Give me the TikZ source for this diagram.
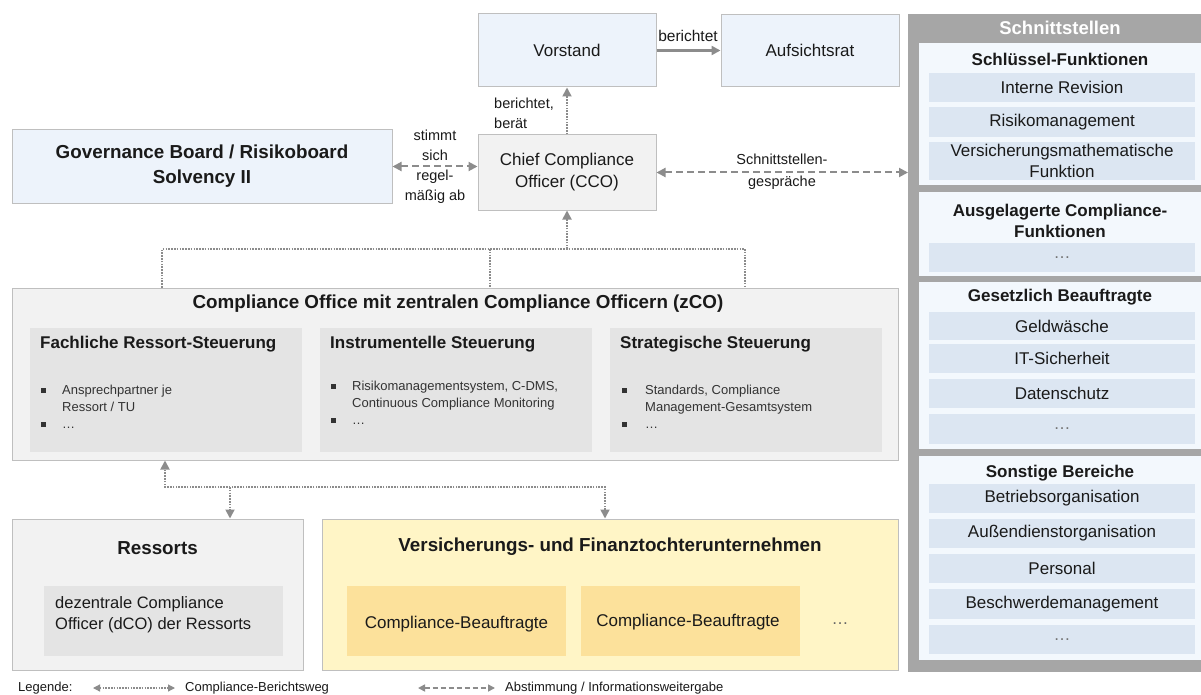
\documentclass[tikz,border=0pt]{standalone}
\usepackage{fontspec}
\setmainfont{Liberation Sans}
\usetikzlibrary{arrows.meta}
\definecolor{bord}{HTML}{BFBFBF}
\definecolor{lblue}{HTML}{EDF3FB}
\definecolor{lgray}{HTML}{F2F2F2}
\definecolor{mgray}{HTML}{E4E4E4}
\definecolor{panelgray}{HTML}{A6A6A6}
\definecolor{grpfill}{HTML}{F3F8FD}
\definecolor{itemfill}{HTML}{DCE6F2}
\definecolor{lyellow}{HTML}{FFF5C6}
\definecolor{dyellow}{HTML}{FCE19B}
\definecolor{agray}{HTML}{8C8C8C}
\definecolor{txtc}{HTML}{1A1A1A}
\newcommand\fsNorm{\fontsize{17}{22}\selectfont}
\newcommand\fsBig{\bfseries\fontsize{18.8}{25}\selectfont}
\newcommand\fsSec{\bfseries\fontsize{17}{21}\selectfont}
\newcommand\fsLab{\fontsize{14.5}{20}\selectfont}
\newcommand\fsSmall{\fontsize{13}{17}\selectfont}
\newcommand\bsq{\rule[1.5pt]{4.5pt}{4.5pt}}
\begin{document}
\begin{tikzpicture}[x=1pt,y=-1pt,
  tbox/.style={draw=bord, line width=1pt, inner sep=0pt, align=center, text=txtc},
  ptext/.style={inner sep=0pt, align=center, text=txtc},
  pitem/.style={fill=itemfill, inner sep=0pt, minimum width=266pt, align=center, text=txtc, font=\fsNorm},
  pgrp/.style={fill=grpfill, inner sep=0pt, minimum width=282pt, anchor=north west},
  dotline/.style={draw=agray, line width=1.8pt, dash pattern=on 1.6pt off 1.2pt},
  dashline/.style={draw=agray, line width=2pt, dash pattern=on 7pt off 4pt},
  onehead/.style={-{Triangle[length=9pt,width=9pt]}},
  twoheads/.style={{Triangle[length=9pt,width=9pt]}-{Triangle[length=9pt,width=9pt]}},
  smallheads/.style={{Triangle[length=7pt,width=7pt]}-{Triangle[length=7pt,width=7pt]}},
]
\useasboundingbox (0,0) rectangle (1201,695);
\fill[white] (0,0) rectangle (1201,695);

% top boxes
\node[tbox, fill=lblue, minimum width=178pt, minimum height=73pt, font=\fsNorm] (vor) at (567,50.5) {Vorstand};
\node[tbox, fill=lblue, minimum width=178pt, minimum height=72pt, font=\fsNorm] (auf) at (810,50.5) {Aufsichtsrat};
\node[tbox, fill=lgray, minimum width=178pt, minimum height=75pt, font=\fsNorm] (cco) at (567,172.5) {Chief Compliance\\Officer (CCO)};
\node[tbox, fill=lblue, minimum width=380pt, minimum height=73pt, font=\fsBig] (gov) at (202,166.5) {Governance Board / Risikoboard\\Solvency II};

% Schnittstellen panel
\node[fill=panelgray, inner sep=0pt, minimum width=293pt, minimum height=658pt, anchor=north west] (panel) at (908,14) {};
\node[ptext, text=white, font=\bfseries\fontsize{18.5}{22}\selectfont] (hdr) at (1060,28) {Schnittstellen};
\node[pgrp, minimum height=142pt] (g1) at (919,43) {};
\node[pgrp, minimum height=84pt] (g2) at (919,192) {};
\node[pgrp, minimum height=167pt] (g3) at (919,282) {};
\node[pgrp, minimum height=204pt] (g4) at (919,456) {};
\node[ptext, font=\fsSec] (g1t) at (1060,59) {Schlüssel-Funktionen};
\node[ptext, font=\fsSec] (g2t) at (1060,220.5) {Ausgelagerte Compliance-\\Funktionen};
\node[ptext, font=\fsSec] (g3t) at (1060,297) {Gesetzlich Beauftragte};
\node[ptext, font=\fsSec] (g4t) at (1060,473) {Sonstige Bereiche};
\node[pitem, minimum height=29pt] (i11) at (1062,87.5) {Interne Revision};
\node[pitem, minimum height=30pt] (i12) at (1062,122) {Risikomanagement};
\node[pitem, minimum height=38pt, font=\fontsize{17}{21}\selectfont] (i13) at (1062,161) {Versicherungsmathematische\\Funktion};
\node[pitem, minimum height=29pt, text=black!55] (i21) at (1062,257.5) {…};
\node[pitem, minimum height=28pt] (i31) at (1062,326) {Geldwäsche};
\node[pitem, minimum height=29pt] (i32) at (1062,358.5) {IT-Sicherheit};
\node[pitem, minimum height=29pt] (i33) at (1062,393.5) {Datenschutz};
\node[pitem, minimum height=30pt, text=black!55] (i34) at (1062,429) {…};
\node[pitem, minimum height=29pt] (i41) at (1062,498.5) {Betriebsorganisation};
\node[pitem, minimum height=29pt] (i42) at (1062,533.5) {Außendienstorganisation};
\node[pitem, minimum height=29pt] (i43) at (1062,568.5) {Personal};
\node[pitem, minimum height=30pt] (i44) at (1062,604) {Beschwerdemanagement};
\node[pitem, minimum height=29pt, text=black!55] (i45) at (1062,639.5) {…};

% Compliance Office
\node[tbox, fill=lgray, minimum width=886pt, minimum height=172pt] (co) at (455,374) {};
\node[ptext, font=\fsBig] (cot) at (458,304) {Compliance Office mit zentralen Compliance Officern (zCO)};
\node[fill=mgray, inner sep=0pt, minimum width=272pt, minimum height=124pt] (s1) at (166,390) {};
\node[fill=mgray, inner sep=0pt, minimum width=272pt, minimum height=124pt] (s2) at (456,390) {};
\node[fill=mgray, inner sep=0pt, minimum width=272pt, minimum height=124pt] (s3) at (746,390) {};
\node[ptext, font=\fsSec, anchor=west] (s1t) at (40,344) {Fachliche Ressort-Steuerung};
\node[ptext, font=\fsSec, anchor=west] (s2t) at (330,344) {Instrumentelle Steuerung};
\node[ptext, font=\fsSec, anchor=west] (s3t) at (620,344) {Strategische Steuerung};
\node[ptext, font=\fsSmall, anchor=north west, align=left, text=black!80] (s1b) at (41,382)
  {\begin{tabular}{@{}p{21pt}@{}l@{}}\bsq & Ansprechpartner je\\ & Ressort / TU\\ \bsq & …\end{tabular}};
\node[ptext, font=\fsSmall, anchor=north west, align=left, text=black!80] (s2b) at (331,378)
  {\begin{tabular}{@{}p{21pt}@{}l@{}}\bsq & Risikomanagementsystem, C-DMS,\\ & Continuous Compliance Monitoring\\ \bsq & …\end{tabular}};
\node[ptext, font=\fsSmall, anchor=north west, align=left, text=black!80] (s3b) at (622,382)
  {\begin{tabular}{@{}p{23pt}@{}l@{}}\bsq & Standards, Compliance\\ & Management-Gesamtsystem\\ \bsq & …\end{tabular}};

% Ressorts
\node[tbox, fill=lgray, minimum width=291pt, minimum height=151pt] (res) at (157.5,594.5) {};
\node[ptext, font=\fsBig] (rest) at (157.5,548) {Ressorts};
\node[fill=mgray, inner sep=0pt, minimum width=239pt, minimum height=70pt] (dco) at (163.5,621) {};
\node[ptext, font=\fontsize{16.5}{21}\selectfont, align=left, anchor=west] (dcot) at (55,615) {dezentrale Compliance\\Officer (dCO) der Ressorts};

% Versicherungs
\node[tbox, fill=lyellow, minimum width=576pt, minimum height=151pt] (ver) at (610,594.5) {};
\node[ptext, font=\fsBig] (vert) at (610,547) {Versicherungs- und Finanztochterunternehmen};
\node[fill=dyellow, inner sep=0pt, minimum width=219pt, minimum height=70pt] (cb1) at (456.5,621) {};
\node[fill=dyellow, inner sep=0pt, minimum width=219pt, minimum height=70pt] (cb2) at (690.5,621) {};
\node[ptext, font=\fsNorm] (cb1t) at (456.5,624) {Compliance-Beauftragte};
\node[ptext, font=\fsNorm] (cb2t) at (688,622) {Compliance-Beauftragte};
\node[ptext, font=\fsNorm, text=black!60] (vdots) at (840,624) {…};

% connectors top
\draw[line width=2.5pt, draw=agray, onehead] (vor.east) -- (auf.west);
\node[ptext, font=\fontsize{15.5}{18}\selectfont] (lbber) at (688,36) {berichtet};
\draw[dotline, onehead] (cco.north) -- (vor.south);
\node[ptext, font=\fsLab, align=left, anchor=west] (lbrb) at (494,113.5) {berichtet,\\berät};
\draw[dashline, twoheads] (gov.east) -- (gov.east -| cco.west);
\node[ptext, font=\fsLab] (lbst) at (435,167) {stimmt\\sich\\regel-\\mäßig ab};
\draw[dashline, twoheads] (cco.east) -- (cco.east -| panel.west);
\node[ptext, font=\fontsize{14.5}{22}\selectfont] (lbsg) at (782,172) {Schnittstellen-\\gespräche};

% dotted tree above Compliance Office
\coordinate (t1) at (162,249);
\coordinate (t2) at (490,249);
\coordinate (t3) at (745,249);
\coordinate (tc) at (567,249);
\draw[dotline] (t1 |- co.north) -- (t1) -- (t3) -- (t3 |- co.north);
\draw[dotline] (t2) -- (t2 |- co.north);
\draw[dotline, onehead] (tc) -- (cco.south);

% dotted tree below
\coordinate (b1) at (165,487);
\coordinate (b2) at (230,487);
\coordinate (b3) at (605,487);
\draw[dotline, twoheads] (b3 |- ver.north) -- (b3) -- (b1) -- (b1 |- co.south);
\draw[dotline, onehead] (b2) -- (b2 |- res.north);

% legend
\node[ptext, font=\fsSmall, anchor=west] (leg) at (18,688) {Legende:};
\coordinate (la1) at (93,688);
\coordinate (la2) at (175,688);
\draw[dotline, line width=1.2pt, smallheads] (la1) -- (la2);
\node[ptext, font=\fsSmall, anchor=west] (leg1) at (185,688) {Compliance-Berichtsweg};
\coordinate (lb1) at (418,688);
\coordinate (lb2) at (495,688);
\draw[dashline, line width=1.6pt, dash pattern=on 5pt off 3pt, smallheads] (lb1) -- (lb2);
\node[ptext, font=\fsSmall, anchor=west] (leg2) at (505,688) {Abstimmung / Informationsweitergabe};
\end{tikzpicture}
\end{document}
